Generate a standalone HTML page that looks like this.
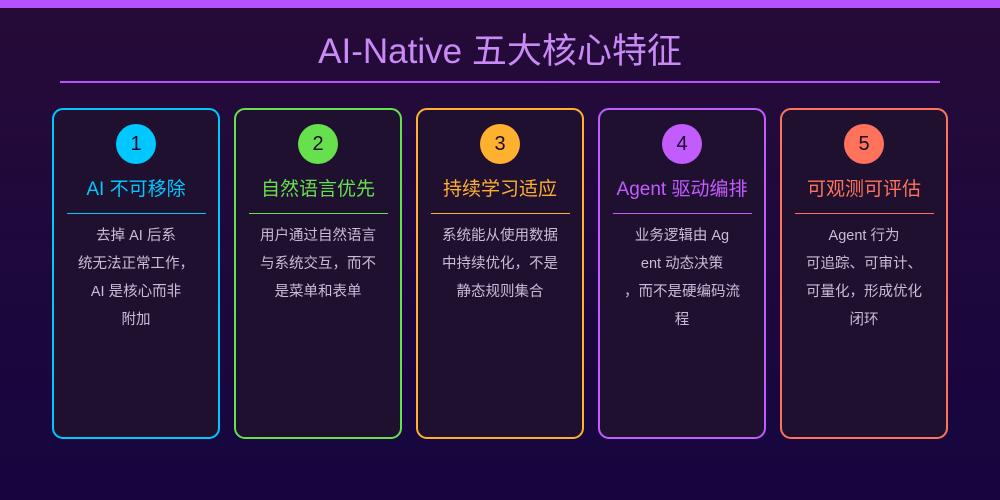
<!DOCTYPE html>
<html><head><meta charset="utf-8"><style>
*{margin:0;padding:0;box-sizing:border-box}
body{width:1000px;height:500px;overflow:hidden;position:relative;background:linear-gradient(#260b38,#16053f);font-family:"Liberation Sans","Noto Sans CJK SC",sans-serif}
.bar{position:absolute;left:0;top:0;width:1000px;height:8px;background:#b452ff}
.title{position:absolute;left:0;top:28px;width:1000px;text-align:center;font-size:35px;line-height:48px;color:#c98af5}
.hr{position:absolute;left:60px;top:81px;width:880px;height:2px;background:#b452ff}
.card{position:absolute;top:108px;width:168px;height:331px;border:2px solid;border-radius:11px;background:#1f1030}
.num{position:absolute;left:62px;top:14px;width:40px;height:40px;border-radius:50%;text-align:center;line-height:40px;font-size:20px;color:#1a0a25}
.h{position:absolute;left:0;top:67px;width:164px;text-align:center;font-size:19px;line-height:26px}
.d{position:absolute;left:13px;top:103px;width:139px;height:1px}
.t{position:absolute;left:2px;top:112px;width:160px;text-align:center;font-size:14.5px;line-height:28px;color:#c8bdd8}
</style></head><body>
<div class="bar"></div>
<div class="title">AI-Native 五大核心特征</div>
<div class="hr"></div>

<div class="card" style="left:52px;border-color:#00c8ff"><div class="num" style="background:#00c8ff">1</div><div class="h" style="color:#00c8ff">AI 不可移除</div><div class="d" style="background:#00c8ff"></div><div class="t">去掉 AI 后系<br>统无法正常工作，<br>AI 是核心而非<br>附加</div></div>

<div class="card" style="left:234px;border-color:#66e04c"><div class="num" style="background:#66e04c">2</div><div class="h" style="color:#66e04c">自然语言优先</div><div class="d" style="background:#66e04c"></div><div class="t">用户通过自然语言<br>与系统交互，而不<br>是菜单和表单</div></div>

<div class="card" style="left:416px;border-color:#ffb02e"><div class="num" style="background:#ffb02e">3</div><div class="h" style="color:#ffb02e">持续学习适应</div><div class="d" style="background:#ffb02e"></div><div class="t">系统能从使用数据<br>中持续优化，不是<br>静态规则集合</div></div>

<div class="card" style="left:598px;border-color:#c25cff"><div class="num" style="background:#c25cff">4</div><div class="h" style="color:#c25cff">Agent 驱动编排</div><div class="d" style="background:#c25cff"></div><div class="t">业务逻辑由 Ag<br>ent 动态决策<br>，而不是硬编码流<br>程</div></div>

<div class="card" style="left:780px;border-color:#ff735c"><div class="num" style="background:#ff735c">5</div><div class="h" style="color:#ff735c">可观测可评估</div><div class="d" style="background:#ff735c"></div><div class="t">Agent 行为<br>可追踪、可审计、<br>可量化，形成优化<br>闭环</div></div>
</body></html>
